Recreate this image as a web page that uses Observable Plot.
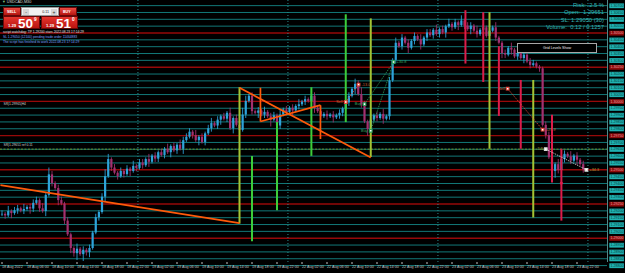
<!DOCTYPE html>
<html><head><meta charset="utf-8">
<script src="https://cdn.jsdelivr.net/npm/d3@7"></script>
<script src="https://cdn.jsdelivr.net/npm/@observablehq/plot@0.6"></script>
<style>
html,body{margin:0;padding:0;background:#000;}
#wrap{position:relative;width:625px;height:273px;overflow:hidden;background:#000;font-family:"Liberation Sans",Arial,sans-serif;}
#wrap svg{position:absolute;left:0;top:0;}
.ov{position:absolute;white-space:nowrap;line-height:1;}
.btn{position:absolute;background:linear-gradient(#ec4a42,#b5150f);border:0.5px solid #6a0808;box-sizing:border-box;color:#fff;font-size:3.6px;font-weight:bold;line-height:9px;padding-left:3px;}
.pan{position:absolute;background:linear-gradient(#e6362e,#b81410);border:0.5px solid #6a0808;box-sizing:border-box;color:#fff;font-weight:bold;}
.pan span{position:absolute;line-height:1;}
.info{position:absolute;right:21px;font-size:5.8px;color:#36b3b3;text-align:right;white-space:nowrap;line-height:1;}
.log{position:absolute;left:3px;font-size:3.3px;white-space:nowrap;line-height:1;}
</style></head>
<body>
<div id="wrap"></div>
<script>
// ---- data (USDCAD, M30 bars; bar 0 = 18 Aug 02:00) ----
const closes = [
1.29175,1.29163,1.29195,1.29180,1.29200,1.29215,1.29198,1.29210,1.29225,1.29213,
1.29255,1.29275,1.29215,1.29195,1.29313,1.29463,1.29400,1.29363,1.29275,1.29250,
1.29125,1.29025,1.28925,1.28887,1.28920,1.28880,1.28912,1.28895,1.28925,1.29038,
1.29150,1.29188,1.29300,1.29450,1.29575,1.29513,1.29475,1.29450,1.29488,1.29465,
1.29505,1.29488,1.29525,1.29510,1.29550,1.29530,1.29575,1.29555,1.29600,1.29578,
1.29625,1.29605,1.29650,1.29625,1.29670,1.29638,1.29680,1.29650,1.29713,1.29738,
1.29775,1.29750,1.29713,1.29738,1.29700,1.29763,1.29800,1.29838,1.29820,1.29863,
1.29888,1.29870,1.29913,1.29800,1.29875,1.29825,1.29788,1.29900,1.30000,1.30038,
1.29925,1.29913,1.29930,1.29900,1.29920,1.29888,1.29863,1.29895,1.29820,1.29900,
1.29938,1.29920,1.29950,1.29930,1.29963,1.29975,1.29995,1.30013,1.30000,1.30038,
1.29950,1.29925,1.29888,1.29905,1.29888,1.29900,1.29880,1.29895,1.29913,1.29945,
1.29988,1.30038,1.30088,1.30125,1.30050,1.29975,1.29850,1.29795,1.29863,1.29895,
1.29875,1.29905,1.29870,1.29888,1.30150,1.30300,1.30425,1.30400,1.30463,1.30425,
1.30388,1.30438,1.30475,1.30450,1.30413,1.30463,1.30500,1.30480,1.30520,1.30488,
1.30525,1.30500,1.30545,1.30563,1.30538,1.30575,1.30555,1.30588,1.30550,1.30525,
1.30550,1.30513,1.30488,1.30520,1.30538,1.30475,1.30513,1.30538,1.30463,1.30425,
1.30350,1.30338,1.30388,1.30375,1.30325,1.30350,1.30313,1.30338,1.30288,1.30263,
1.30275,1.30250,1.30238,1.29825,1.29750,1.29588,1.29488,1.29538,1.29495,1.29575,
1.29613,1.29595,1.29563,1.29600,1.29570,1.29538,1.29500,1.29509];
const firstOpen = 1.29170;
// wick lengths above / below the body, one digit per bar, in 1.25-pip steps
const hiWick = "2131221312221314212212113121212124312121213122131212131213222131212312121312243121213122131212131213213121212112132421312131213121212131221312131213122131212131121312131221112221312131212";
const loWick = "1213121213212131213121324142311213121212131212131221213121311213121212312131212121312141221213121211312121312212131214212131212121312131212121312131213121312121321312131211212124242121312120";
const WICK_STEP = 0.000125;

const timeTickBars = [0,8,16,24,32,40,48,56,64,72,80,88,96,104,112,120,128,136,144,152,160,168,176,184];
const timeTickLabels = ["18 Aug 2022","18 Aug 06:00","18 Aug 10:00","18 Aug 14:00","18 Aug 18:00","18 Aug 22:00",
 "19 Aug 02:00","19 Aug 06:00","19 Aug 10:00","19 Aug 14:00","19 Aug 18:00","19 Aug 22:00",
 "22 Aug 02:00","22 Aug 06:00","22 Aug 10:00","22 Aug 14:00","22 Aug 18:00","22 Aug 22:00",
 "23 Aug 02:00","23 Aug 06:00","23 Aug 10:00","23 Aug 14:00","23 Aug 18:00","23 Aug 22:00"];
const daySeparatorBars = [43.5, 91.5, 139.5, 187.5];

const gridLevels = [1.2880,1.2885,1.2890,1.2895,1.2900,1.2905,1.2910,1.2915,1.2920,1.2925,1.2930,1.2935,1.2940,
 1.2945,1.2950,1.2955,1.2960,1.2965,1.2970,1.2975,1.2980,1.2985,1.2990,1.2995,1.3000,1.3005,1.3010,1.3015,
 1.3020,1.3025,1.3030,1.3035,1.3040,1.3045,1.3050,1.3055,1.3060,1.3065,1.3070];
const majorLevels = [1.2900,1.2925,1.2950,1.2975,1.3000,1.3025,1.3050];
const openLevel = [1.29651];
const srLabels = [{price:1.29965, label:"SR|1.29965|H4"},{price:1.29665, label:"SR|1.29651 ref 0.11"}];

// signal verticals: bar, price range, kind
const signalBars = [
 {bar:76, from:1.30100, to:1.29103, kind:"wait"},
 {bar:80, from:1.29598, to:1.28975, kind:"buy"},
 {bar:88, from:1.29845, to:1.29200, kind:"buy"},
 {bar:99, from:1.30100, to:1.29598, kind:"buy"},
 {bar:110, from:1.30633, to:1.29845, kind:"buy"},
 {bar:118, from:1.30603, to:1.29590, kind:"wait"},
 {bar:148.3, from:1.30663, to:1.30273, kind:"sell"},
 {bar:154, from:1.30648, to:1.30138, kind:"sell"},
 {bar:156, from:1.30648, to:1.29650, kind:"wait"},
 {bar:159, from:1.30400, to:1.29890, kind:"sell"},
 {bar:166, from:1.30153, to:1.29650, kind:"sell"},
 {bar:170, from:1.30153, to:1.29148, kind:"wait"},
 {bar:176, from:1.29898, to:1.29403, kind:"sell"},
 {bar:179, from:1.29650, to:1.29125, kind:"sell"}];
const signalDots = [{bar:179, price:1.29403}];

// hand-drawn trend lines
const trendLines = [
 {b1:-0.5, p1:1.29388, b2:76, p2:1.29110},
 {b1:76, p1:1.30100, b2:118, p2:1.29590},
 {b1:82.7, p1:1.30100, b2:82.7, p2:1.29853},
 {b1:82.7, p1:1.29853, b2:101.9, p2:1.29973},
 {b1:101.9, p1:1.29973, b2:101.9, p2:1.29725}];

// trades
const tradePoints = [
 {bar:110, price:1.29995, side:"sell", label:"Sell", at:"left"},
 {bar:114.1, price:1.30123, side:"sell", label:"-13.0", at:"right"},
 {bar:116, price:1.29980, side:"buy", label:"Buy", at:"left"},
 {bar:118, price:1.29785, side:"buy", label:"Buy", at:"left"},
 {bar:125.3, price:1.30288, side:"buy", label:"+30.8", at:"right"},
 {bar:161.8, price:1.30093, side:"sell", label:"Sell", at:"left"},
 {bar:173, price:1.29793, side:"sell", label:"+27.9", at:"right"},
 {bar:174, price:1.29651, side:"open", label:"7.8", at:"left"},
 {bar:187, price:1.29500, side:"open", label:"+34.3", at:"right"}];
const tradeLinks = [
 {b1:110, p1:1.29995, b2:114.1, p2:1.30123, side:"sell"},
 {b1:116, p1:1.29980, b2:125.3, p2:1.30288, side:"buy"},
 {b1:118, p1:1.29785, b2:125.3, p2:1.30288, side:"buy"},
 {b1:161.8, p1:1.30093, b2:173, p2:1.29793, side:"sell"},
 {b1:174, p1:1.29651, b2:187, p2:1.29500, side:"open"}];

// ---- styles ----
const signalColor = {buy:"#3ccc3a", wait:"#a3c334", sell:"#dc1c4a"};
const tradeColor = {buy:"#2ea05a", sell:"#e8463a", open:"#d8d8d8"};
const tradeText = {buy:"#3aa862", sell:"#c8643c", open:"#a8a23a"};
const UP = "#2ea3da", DOWN = "#a3306f";

const candles = closes.map((c, i) => {
  const o = i ? closes[i - 1] : firstOpen;
  return {i, open:o, close:c,
    high: Math.max(o, c) + (+hiWick[i]) * WICK_STEP,
    low: Math.min(o, c) - (+loWick[i]) * WICK_STEP,
    up: c >= o};
});
const labelOf = new Map(timeTickBars.map((b, k) => [b, timeTickLabels[k]]));
const xDomain = [-0.48, 193.76];
const isMajor = p => majorLevels.some(m => Math.abs(m - p) < 1e-7);

const chart = Plot.plot({
  width:625, height:273, marginLeft:0, marginRight:18, marginTop:0, marginBottom:11,
  style:{background:"#000", fontFamily:"Liberation Sans, Arial, sans-serif", overflow:"visible"},
  x:{domain:xDomain, axis:null},
  y:{domain:[1.288225, 1.307375], axis:null},
  marks:[
    Plot.ruleY(gridLevels.filter(p => !isMajor(p)), {stroke:"#127878", strokeWidth:1}),
    Plot.ruleY(majorLevels, {stroke:"#960909", strokeWidth:1.4}),
    Plot.ruleY(openLevel, {stroke:"#6f8f25", strokeWidth:1, strokeDasharray:"2,1.5"}),
    Plot.ruleX(daySeparatorBars, {stroke:"#2a8c8c", strokeWidth:1, strokeDasharray:"1,2"}),
    Plot.ruleX(candles, {x:"i", y1:"low", y2:"high", stroke:d => d.up ? UP : DOWN, strokeWidth:1, strokeOpacity:0.85}),
    Plot.ruleX(candles, {x:"i", y1:"open", y2:"close", stroke:d => d.up ? UP : DOWN, strokeWidth:2.2}),
    Plot.ruleX(signalBars, {x:"bar", y1:"from", y2:"to", stroke:d => signalColor[d.kind], strokeWidth:2}),
    Plot.dot(signalDots, {x:"bar", y:"price", r:1.6, fill:signalColor.sell}),
    Plot.link(trendLines, {x1:"b1", y1:"p1", x2:"b2", y2:"p2", stroke:"#ff5a0a", strokeWidth:1.7}),
    Plot.link(tradeLinks, {x1:"b1", y1:"p1", x2:"b2", y2:"p2", stroke:d => tradeColor[d.side], strokeWidth:0.8, strokeDasharray:"1.5,1"}),
    Plot.dot(tradePoints, {x:"bar", y:"price", symbol:"square", r:1.5, fill:"#fff", stroke:d => tradeColor[d.side], strokeWidth:1.1}),
    Plot.text(tradePoints.filter(d => d.at === "left"), {x:"bar", y:"price", text:"label", textAnchor:"end", dx:-3, fontSize:3.9, fill:d => tradeText[d.side]}),
    Plot.text(tradePoints.filter(d => d.at === "right"), {x:"bar", y:"price", text:"label", textAnchor:"start", dx:3, fontSize:3.9, fill:d => tradeText[d.side]}),
    Plot.text(srLabels, {y:"price", text:"label", frameAnchor:"left", textAnchor:"start", dx:3, dy:-2.5, fontSize:3.3, fill:"#cfcfcf"}),
    Plot.ruleX([xDomain[1]], {stroke:"#4f8a8a", strokeWidth:1}),
    Plot.axisX({ticks:timeTickBars, tickFormat:d => labelOf.get(d), anchor:"bottom", textAnchor:"start",
      tickSize:2, tickPadding:1, fontSize:3.7, color:"#c4c4c4"}),
    Plot.axisY({ticks:gridLevels, tickFormat:d => d.toFixed(5), anchor:"right", tickSize:0, tickPadding:3,
      textAnchor:"start", fontSize:3.6, fill:"#063a3a"})
  ]
});
const wrap = document.getElementById("wrap");
wrap.appendChild(chart);

// label boxes behind the price-axis texts
d3.select(chart).selectAll('g[aria-label="y-axis tick label"] text').each(function(){
  const bb = this.getBBox();
  const major = majorLevels.some(m => this.textContent === m.toFixed(5));
  const r = document.createElementNS("http://www.w3.org/2000/svg", "rect");
  r.setAttribute("x", bb.x - 1.2); r.setAttribute("y", bb.y - 0.4);
  r.setAttribute("width", 14.6); r.setAttribute("height", bb.height + 0.8);
  if (this.getAttribute("transform")) r.setAttribute("transform", this.getAttribute("transform"));
  r.setAttribute("fill", major ? "#8e0a0a" : "#1fb1b1");
  this.parentNode.insertBefore(r, this);
  this.setAttribute("fill", major ? "#e6a0a0" : "#063a3a");
});

// ---- terminal overlays ----
wrap.insertAdjacentHTML("beforeend", `
<div class="ov" style="left:2px;top:1px;font-size:3.8px;color:#d8d8d8"><span style="color:#7fbf7f">&#9660;</span> USDCAD,M30</div>
<div class="btn" style="left:3px;top:7px;width:18px;height:9px">SELL</div>
<div class="ov" style="left:21px;top:7px;width:38px;height:9px;background:#f2f2f2;border:0.5px solid #999;box-sizing:border-box">
  <div class="ov" style="left:1px;top:1px;width:6px;height:6px;background:#d6d6d6;color:#333;font-size:5px;text-align:center;line-height:6px">-</div>
  <div class="ov" style="right:9px;top:2.5px;font-size:3.6px;color:#222">0.11</div>
  <div class="ov" style="right:1px;top:1px;width:6px;height:6px;background:#d6d6d6;color:#333;font-size:5px;text-align:center;line-height:6px">+</div>
</div>
<div class="btn" style="left:59px;top:7px;width:18px;height:9px">BUY</div>
<div class="pan" style="left:3px;top:16px;width:37px;height:13px">
  <span style="left:4px;top:7px;font-size:4.2px">1.29</span>
  <span style="left:14px;top:0px;font-size:13.5px">50</span>
  <span style="left:30px;top:1px;font-size:4.8px">9</span>
</div>
<div class="pan" style="left:41px;top:16px;width:37px;height:13px">
  <span style="left:4px;top:7px;font-size:4.2px">1.29</span>
  <span style="left:14px;top:0px;font-size:13.5px">51</span>
  <span style="left:30px;top:1px;font-size:4.8px">0</span>
</div>
<div class="log" style="top:30.5px;color:#e0e0e0">script watchdog: TP 1.29200 stars 2022.08.23 17:14:29</div>
<div class="log" style="top:35.5px;color:#7fa8ff">SL 1.29050 (12100) pending trade order 11464883</div>
<div class="log" style="top:40.5px;color:#7fa8ff">The script has finished its work 2022.08.23 17:14:29</div>
<div class="info" style="top:2.5px">Risk:&nbsp;&nbsp;2.5 %</div>
<div class="info" style="top:10px">Open:&nbsp;&nbsp;1.29651</div>
<div class="info" style="top:17.5px">SL: 1.29050 (30)</div>
<div class="info" style="top:25px">Volume:&nbsp;&nbsp;0.12 / 0.1257</div>
<div class="ov" style="left:517px;top:43px;width:80px;height:10px;background:#000;border:0.7px solid #a8a8a8;box-sizing:border-box;color:#eee;font-size:3.6px;text-align:center;line-height:9px">Grid Levels Show</div>
`);
</script>
</body></html>
